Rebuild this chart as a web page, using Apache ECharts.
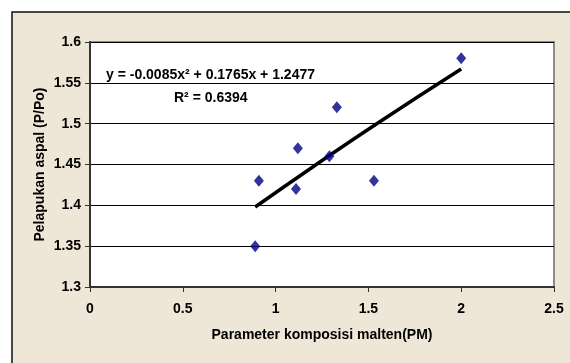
<!DOCTYPE html>
<html>
<head>
<meta charset="utf-8">
<script src="https://cdn.jsdelivr.net/npm/echarts@6/dist/echarts.min.js"></script>
<style>
html,body{margin:0;padding:0;background:#ffffff;}
#chart{width:570px;height:363px;}
</style>
</head>
<body>
<div id="chart"></div>
<script>
// Data
var pmValues = [0.89, 0.91, 1.11, 1.12, 1.29, 1.33, 1.53, 2.00];
var weatheringValues = [1.35, 1.43, 1.42, 1.47, 1.46, 1.52, 1.43, 1.58];
// Trendline points read from the drawn polynomial trendline
var trendX = [0.89, 1.2, 1.545, 2.0];
var trendY = [1.398, 1.447, 1.500, 1.567];
var equationText = 'y = -0.0085x² + 0.1765x + 1.2477';
var r2Text = 'R² = 0.6394';
var xAxisTitle = 'Parameter komposisi malten(PM)';
var yAxisTitle = 'Pelapukan aspal (P/Po)';

var FONT = 'Arial, "Liberation Sans", sans-serif';
var chart = echarts.init(document.getElementById('chart'), null, {renderer: 'canvas'});

var scatterData = pmValues.map(function (x, i) { return [x, weatheringValues[i]]; });
var trendData = trendX.map(function (x, i) { return [x, trendY[i]]; });

chart.setOption({
  animation: false,
  backgroundColor: '#ffffff',
  graphic: [
    {
      type: 'rect', z: -10, silent: true,
      shape: {x: 12, y: 12, width: 640, height: 420},
      style: {fill: '#EEE6D6', stroke: '#111111', lineWidth: 1.5}
    },
    {
      type: 'text', z: 100,
      left: 106, top: 68,
      style: {text: equationText, font: 'bold 14px ' + FONT, fill: '#000000'}
    },
    {
      type: 'text', z: 100,
      left: 174, top: 91,
      style: {text: r2Text, font: 'bold 14px ' + FONT, fill: '#000000'}
    }
  ],
  grid: {
    left: 90, right: 16, top: 42, bottom: 76,
    show: true, backgroundColor: '#ffffff',
    borderColor: '#8c8c8c', borderWidth: 2
  },
  xAxis: {
    type: 'value', min: 0, max: 2.5, interval: 0.5,
    name: xAxisTitle, nameLocation: 'middle', nameGap: 41, nameMoveOverlap: false,
    nameTextStyle: {fontFamily: FONT, fontWeight: 'bold', fontSize: 14, color: '#000'},
    axisLine: {show: true, onZero: false, lineStyle: {color: '#333333', width: 2}},
    axisTick: {show: true, inside: false, length: 5, lineStyle: {color: '#333333', width: 1}},
    axisLabel: {fontFamily: FONT, fontWeight: 'bold', fontSize: 14, color: '#000', margin: 15,
      formatter: function (v) { return String(+v.toFixed(2)); }},
    splitLine: {show: false}
  },
  yAxis: {
    type: 'value', min: 1.3, max: 1.6, interval: 0.05,
    name: yAxisTitle, nameLocation: 'middle', nameGap: 43, nameRotate: 90, nameMoveOverlap: false,
    nameTextStyle: {fontFamily: FONT, fontWeight: 'bold', fontSize: 14, color: '#000'},
    axisLine: {show: true, onZero: false, lineStyle: {color: '#333333', width: 2}},
    axisTick: {show: true, inside: false, length: 5, lineStyle: {color: '#333333', width: 1}},
    axisLabel: {fontFamily: FONT, fontWeight: 'bold', fontSize: 14, color: '#000', margin: 9,
      formatter: function (v) { return String(+v.toFixed(2)); }},
    splitLine: {show: true, lineStyle: {color: '#000000', width: 1}}
  },
  series: [
    {
      type: 'line', data: trendData, showSymbol: false, symbol: 'none',
      smooth: true, z: 3,
      lineStyle: {color: '#000000', width: 3.5, cap: 'butt'}
    },
    {
      type: 'scatter', data: scatterData, symbol: 'diamond', symbolSize: [10, 12], z: 4,
      itemStyle: {color: '#000080'}
    }
  ]
});
</script>
</body>
</html>
